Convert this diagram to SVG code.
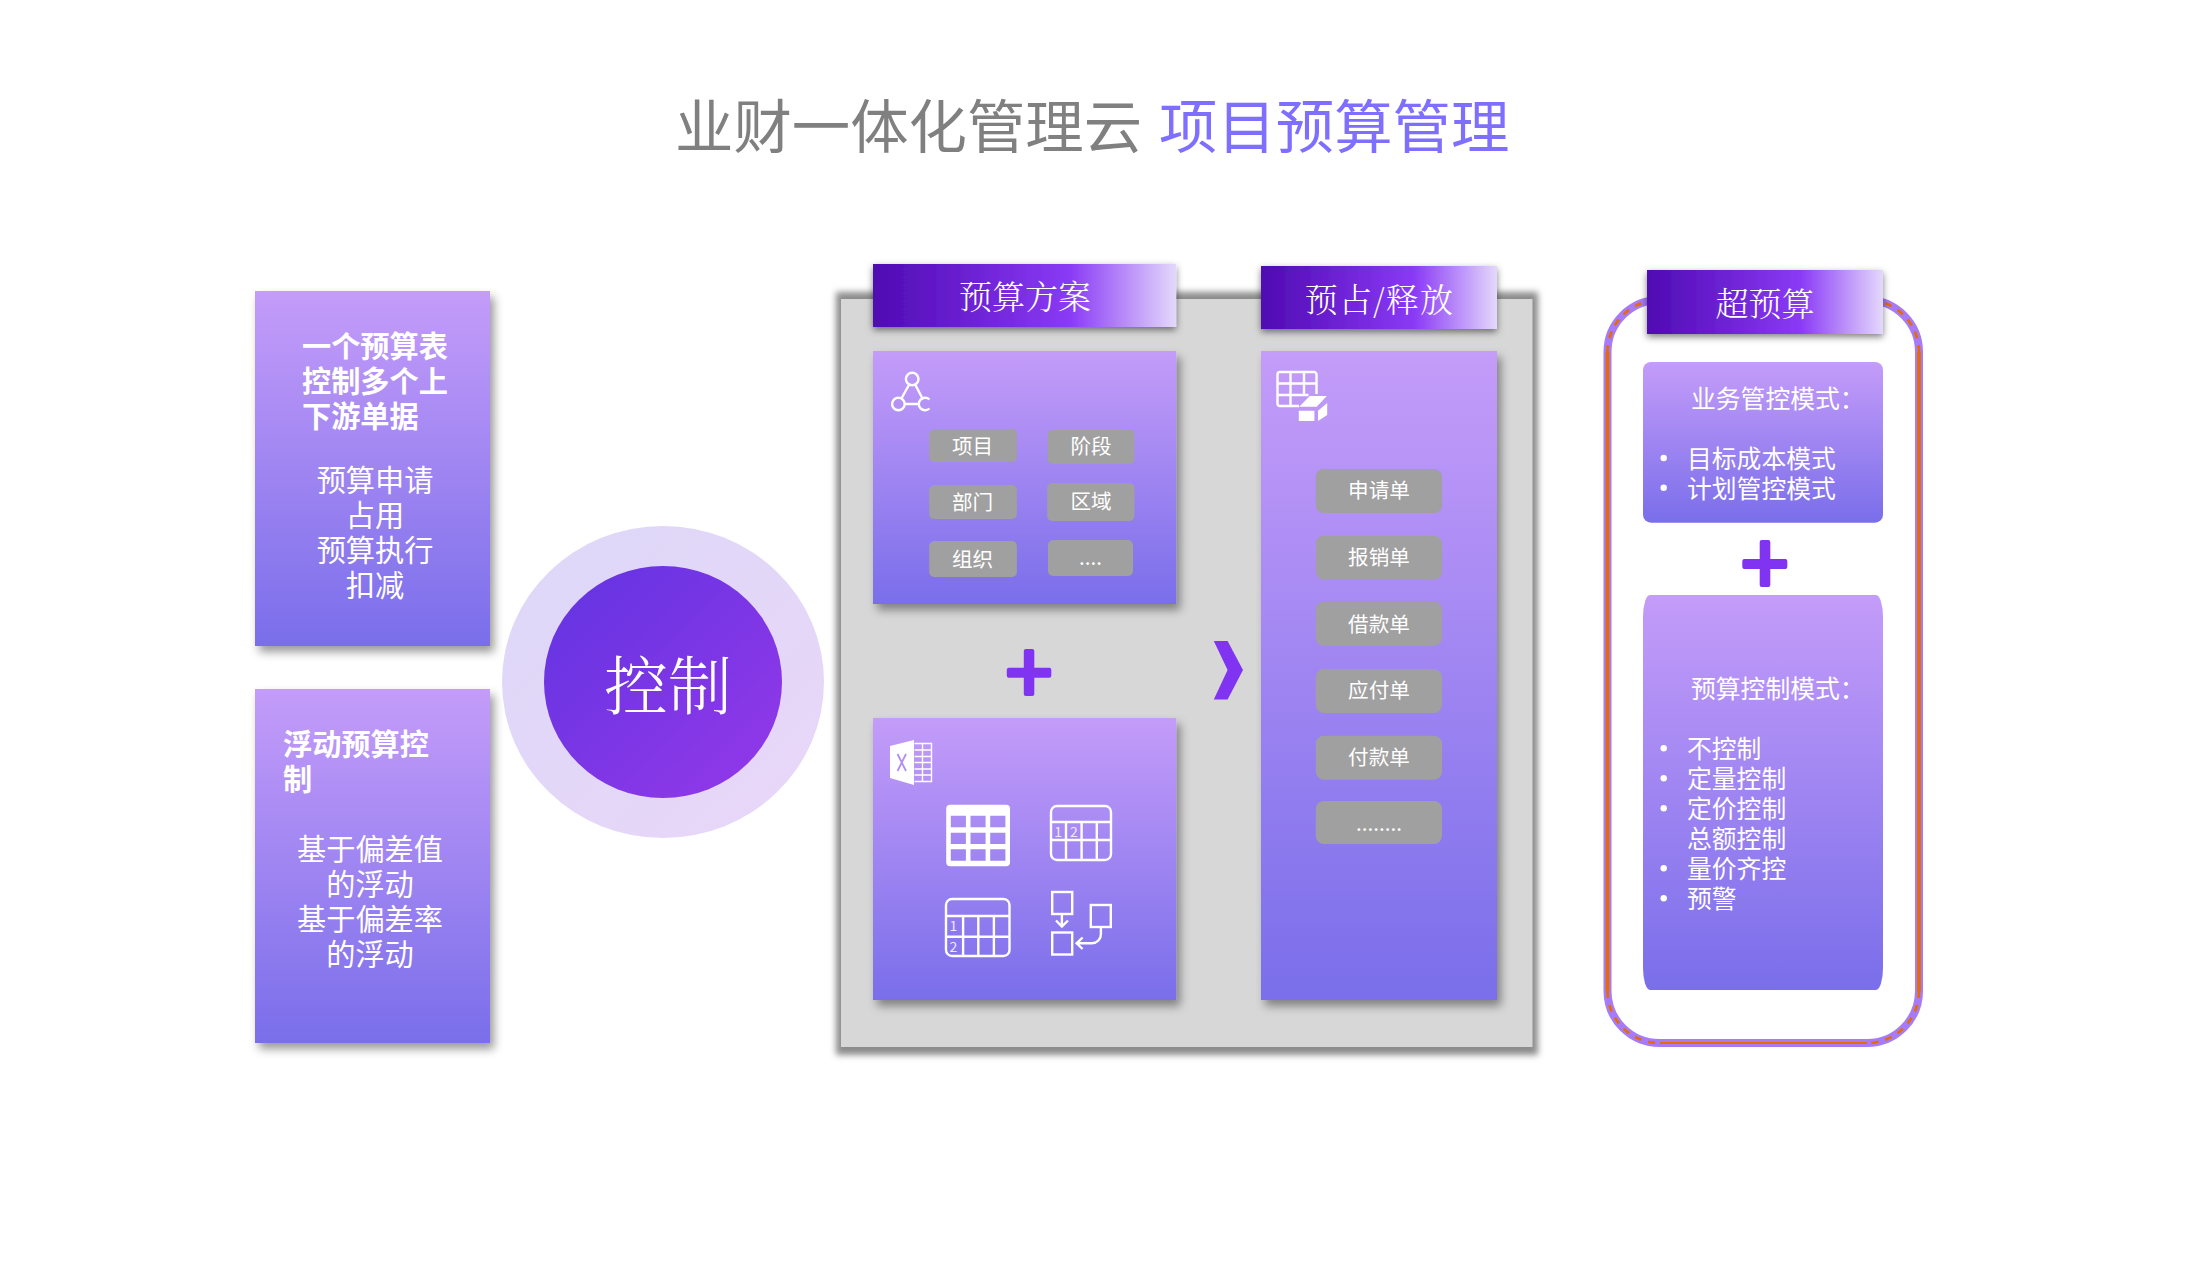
<svg xmlns="http://www.w3.org/2000/svg" width="2192" height="1268" viewBox="0 0 2192 1268">
<style>
text{font-family:"Noto Sans CJK SC","Liberation Sans",sans-serif;fill:#fff}
.serif{font-family:"Noto Serif CJK SC","AR PL UMing CN","SimSun","Liberation Serif","Noto Sans CJK SC",serif;text-anchor:middle;font-weight:300}
.c{text-anchor:middle}
.t29{font-size:29.2px}
.b{font-weight:700}
.t21{font-size:20.6px;text-anchor:middle}
.t25{font-size:24.8px}
.card{fill:url(#cardGrad);filter:url(#cardShadow)}
.plain{fill:url(#cardGrad)}
.chip{fill:#a0a0a0}
.hdr{fill:url(#hdrGrad);filter:url(#hdrShadow)}
.ico{fill:none;stroke:#fff;stroke-width:2.4}
.pl{fill:#8033f0}
.num{font-size:14px;text-anchor:middle;fill:#efe8ff}
</style>
<defs>
<linearGradient id="cardGrad" x1="0" y1="0" x2="0" y2="1"><stop offset="0" stop-color="#c49cf9"/><stop offset="1" stop-color="#7a6eea"/></linearGradient>
<linearGradient id="hdrGrad" x1="0" y1="0" x2="1" y2="0"><stop offset="0" stop-color="#4f0ab2"/><stop offset=".65" stop-color="#8a3af5"/><stop offset="1" stop-color="#e4d8fc"/></linearGradient>
<linearGradient id="outerGrad" x1="0" y1="0" x2="1" y2="1"><stop offset="0" stop-color="#ddd8f8"/><stop offset="1" stop-color="#e9d6f8"/></linearGradient>
<linearGradient id="innerGrad" x1="0.1" y1="0.1" x2="0.9" y2="0.9"><stop offset="0" stop-color="#6634e2"/><stop offset="1" stop-color="#9038e8"/></linearGradient>
<filter id="cardShadow" x="-15%" y="-15%" width="130%" height="130%"><feDropShadow dx="4" dy="6" stdDeviation="5" flood-color="#000" flood-opacity=".4"/></filter>
<filter id="hdrShadow" x="-15%" y="-30%" width="130%" height="170%"><feDropShadow dx="0" dy="3" stdDeviation="3.5" flood-color="#000" flood-opacity=".5"/></filter>
<filter id="soft" x="-5%" y="-5%" width="110%" height="110%"><feGaussianBlur stdDeviation="3.2"/></filter>
</defs>
<rect width="2192" height="1268" fill="#fff"/>

<g id="title">
<text x="675" y="148" font-size="58.4" style="fill:#808080">业财一体化管理云</text>
<text x="1159" y="148" font-size="58.4" style="fill:#7f6fff">项目预算管理</text>
</g>

<g id="box-table">
<rect class="card" x="255" y="291" width="235" height="355"/>
<text class="t29 b" y="357"><tspan x="302">一个预算表</tspan><tspan x="302" dy="35">控制多个上</tspan><tspan x="302" dy="35">下游单据</tspan></text>
<text class="t29 c" y="491"><tspan x="375">预算申请</tspan><tspan x="375" dy="35">占用</tspan><tspan x="375" dy="35">预算执行</tspan><tspan x="375" dy="35">扣减</tspan></text>
</g>

<g id="box-float">
<rect class="card" x="255" y="689" width="235" height="354"/>
<text class="t29 b" y="755"><tspan x="283">浮动预算控</tspan><tspan x="283" dy="35">制</tspan></text>
<text class="t29 c" y="860"><tspan x="370">基于偏差值</tspan><tspan x="370" dy="35">的浮动</tspan><tspan x="370" dy="35">基于偏差率</tspan><tspan x="370" dy="35">的浮动</tspan></text>
</g>

<g id="control">
<ellipse cx="663" cy="682" rx="161" ry="156" fill="url(#outerGrad)"/>
<ellipse cx="663" cy="682" rx="119" ry="116" fill="url(#innerGrad)"/>
<text class="serif" x="668" y="709" font-size="64">控制</text>
</g>

<g id="panel">
<rect x="836" y="292" width="702" height="763" fill="#8c8c8c" filter="url(#soft)"/>
<rect x="841" y="299" width="691.5" height="748" fill="#d7d7d7"/>
</g>

<g id="frame-overrun" fill="none">
<rect x="1607.5" y="300" width="311.5" height="743" rx="52" ry="52" stroke="#a77bf5" stroke-width="8"/>
<path d="M1607.5 352V991M1919 352V991" stroke="#e66c00" stroke-width="3.6"/>
<path d="M1660 1043H1867" stroke="#e66c00" stroke-width="2"/>
<path d="M1607.5 352A52 52 0 0 1 1659.5 300M1919 352A52 52 0 0 0 1867 300M1607.5 991A52 52 0 0 0 1659.5 1043M1919 991A52 52 0 0 1 1867 1043" stroke="#e66c00" stroke-width="2.6" stroke-dasharray="7 7"/>
</g>

<g id="scheme">
<rect class="hdr" x="873" y="264" width="303.2" height="63"/>
<text class="serif" x="1025" y="309" font-size="33">预算方案</text>
<rect class="card" x="873" y="351" width="303.2" height="253"/>
<g class="ico">
<circle cx="912.2" cy="379" r="6.3"/><circle cx="898.4" cy="404" r="6.3"/><path d="M929.5 399.5A6.3 6.3 0 1 0 929.5 408.5"/>
<path d="M909.2 384.5L901.4 398.5M915.2 384.5L922.5 398.5M904.7 404H919.3"/>
</g>
<rect class="chip" x="929.2" y="429" width="87.7" height="33" rx="5"/>
<rect class="chip" x="1047.6" y="430" width="86.8" height="34" rx="5"/>
<rect class="chip" x="929.2" y="485" width="87.7" height="34" rx="5"/>
<rect class="chip" x="1047.2" y="483" width="87.2" height="38" rx="5"/>
<rect class="chip" x="929.2" y="541" width="87.7" height="36" rx="5"/>
<rect class="chip" x="1048" y="540" width="85" height="36" rx="5"/>
<text class="t21" x="972.6" y="454">项目</text>
<text class="t21" x="1091" y="454">阶段</text>
<text class="t21" x="972.6" y="510">部门</text>
<text class="t21" x="1091" y="509">区域</text>
<text class="t21" x="972.6" y="567">组织</text>
<text class="t21" x="1090.5" y="565">....</text>
</g>

<g id="templates">
<rect class="card" x="873" y="718" width="303.2" height="282"/>
<path d="M890 746L914 740V785L890 778Z" fill="#fff"/>
<path d="M897.5 754L906 771M906 754L897.5 771" fill="none" stroke="#b18ef6" stroke-width="1.8"/>
<path d="M914.5 743.5H931.5V781.5H914.5M914.5 750H931.5M914.5 756.5H931.5M914.5 762.5H931.5M914.5 769H931.5M914.5 775H931.5M922.5 743.5V781.5" fill="none" stroke="#fff" stroke-width="1.4"/>
<path fill="#fff" fill-rule="evenodd" d="M950.2 804.7H1006A4 4 0 0 1 1010 808.7V862.3A4 4 0 0 1 1006 866.3H950.2A4 4 0 0 1 946.2 862.3V808.7A4 4 0 0 1 950.2 804.7ZM950.8 815.7V827.3H965.9V815.7ZM970.5 815.7V827.3H985.6V815.7ZM990.2 815.7V827.3H1005.4V815.7ZM950.8 832.7V844H965.9V832.7ZM970.5 832.7V844H985.6V832.7ZM990.2 832.7V844H1005.4V832.7ZM950.8 849.3V860.7H965.9V849.3ZM970.5 849.3V860.7H985.6V849.3ZM990.2 849.3V860.7H1005.4V849.3Z"/>
<g class="ico">
<rect x="1051" y="806" width="60" height="54" rx="6"/>
<path d="M1051 822H1111M1051 840H1111M1066 822V860M1081.6 822V860M1096.8 822V860"/>
<rect x="946" y="899" width="63.5" height="57" rx="6"/>
<path d="M946 916H1009.5M946 936.7H1009.5M963.1 916V956M978.3 916V956M993.9 916V956"/>
<rect x="1052.2" y="892" width="20" height="22"/>
<rect x="1052.2" y="932.5" width="20" height="22"/>
<rect x="1090.8" y="905" width="20" height="22"/>
<path d="M1061.9 914V926M1056 920.5L1061.9 926.5L1068 920.5"/>
<path d="M1100.9 927V934A9 9 0 0 1 1092 943.3H1076.6M1082.6 937.5L1076.6 943.3L1082.6 949"/>
</g>
<text class="num" x="1058.2" y="837">1</text>
<text class="num" x="1073.8" y="837">2</text>
<text class="num" x="953.5" y="931">1</text>
<text class="num" x="953.5" y="952">2</text>
</g>

<g id="release">
<rect class="hdr" x="1261" y="266" width="236" height="63"/>
<text class="serif" x="1379.5" y="312" font-size="33" letter-spacing="1.2">预占/释放</text>
<rect class="card" x="1261" y="351" width="236" height="649"/>
<path class="ico" d="M1299 406H1279.5A2.5 2.5 0 0 1 1277.5 403.5V374.5A2.5 2.5 0 0 1 1280 372H1314A2.5 2.5 0 0 1 1316.5 374.5V394M1277.5 383.5H1316.5M1277.5 395H1308.5M1290.5 372V406M1304 372V396"/>
<path fill="#fff" d="M1309.8 396H1326.8L1316.7 406.7H1299.2ZM1298.8 410.7H1314.4V421H1298.8ZM1318 410.7L1327.2 403V415L1318 421Z"/>
<rect class="chip" x="1315.8" y="469" width="126.2" height="44" rx="8"/>
<rect class="chip" x="1315.8" y="535.7" width="126.2" height="44" rx="8"/>
<rect class="chip" x="1315.8" y="601.7" width="126.2" height="44" rx="8"/>
<rect class="chip" x="1315.8" y="669" width="126.2" height="44" rx="8"/>
<rect class="chip" x="1315.8" y="735.7" width="126.2" height="44" rx="8"/>
<rect class="chip" x="1315.8" y="801" width="126.2" height="43" rx="8"/>
<text class="t21" x="1379" y="498">申请单</text>
<text class="t21" x="1379" y="565">报销单</text>
<text class="t21" x="1379" y="632">借款单</text>
<text class="t21" x="1379" y="698">应付单</text>
<text class="t21" x="1379" y="765">付款单</text>
<text class="t21" x="1379" y="831">........</text>
</g>

<g id="overrun">
<rect class="hdr" x="1647" y="270" width="236" height="64"/>
<text class="serif" x="1765" y="316" font-size="33">超预算</text>
<rect class="plain" x="1643" y="362" width="240" height="160.7" rx="8"/>
<text class="t25" x="1691" y="408">业务管控模式：</text>
<circle cx="1663.7" cy="458" r="3.2" fill="#fff"/><circle cx="1663.7" cy="487.7" r="3.2" fill="#fff"/>
<text class="t25" y="468"><tspan x="1687">目标成本模式</tspan><tspan x="1687" dy="30">计划管控模式</tspan></text>
<rect class="plain" x="1643" y="595" width="240" height="395" rx="7" ry="22"/>
<text class="t25" x="1691" y="697.5">预算控制模式：</text>
<g fill="#fff"><circle cx="1663.7" cy="748.3" r="3.2"/><circle cx="1663.7" cy="778.3" r="3.2"/><circle cx="1663.7" cy="808.3" r="3.2"/><circle cx="1663.7" cy="868.3" r="3.2"/><circle cx="1663.7" cy="898.3" r="3.2"/></g>
<text class="t25" y="757.5"><tspan x="1687">不控制</tspan><tspan x="1687" dy="30">定量控制</tspan><tspan x="1687" dy="30">定价控制</tspan><tspan x="1687" dy="30">总额控制</tspan><tspan x="1687" dy="30">量价齐控</tspan><tspan x="1687" dy="30">预警</tspan></text>
</g>

<g id="connectors">
<path class="pl" d="M1025.8 649H1032.3A2 2 0 0 1 1034.3 651V667.7H1049.3A2 2 0 0 1 1051.3 669.7V675.7A2 2 0 0 1 1049.3 677.7H1034.3V694A2 2 0 0 1 1032.3 696H1025.8A2 2 0 0 1 1023.8 694V677.7H1008.8A2 2 0 0 1 1006.8 675.7V669.7A2 2 0 0 1 1008.8 667.7H1023.8V651A2 2 0 0 1 1025.8 649Z"/>
<path class="pl" d="M1213.8 641H1227.6L1243 670L1227.6 699.5H1213.8L1227.6 670Z"/>
<path class="pl" d="M1761.7 540H1768.3A2 2 0 0 1 1770.3 542V559H1785.3A2 2 0 0 1 1787.3 561V567A2 2 0 0 1 1785.3 569H1770.3V585A2 2 0 0 1 1768.3 587H1761.7A2 2 0 0 1 1759.7 585V569H1744.3A2 2 0 0 1 1742.3 567V561A2 2 0 0 1 1744.3 559H1759.7V542A2 2 0 0 1 1761.7 540Z"/>
</g>
</svg>
